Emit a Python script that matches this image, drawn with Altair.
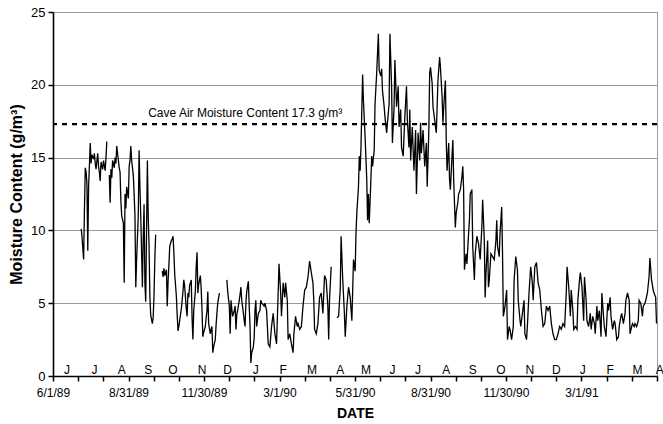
import altair as alt
import pandas as pd

# Days since 1 June 1989 (None marks a gap in the record) and moisture content (g/m3)
DAY = [
    34, 35, 37, 38, 39, 40, 41, 42, 43, 45, 46, 47, 49, 50, 51, 52, 54, 55, 56, 57, 58, 60, 61, 63, 64, 65,
    None,
    68, 69, 70, 71, 72, 74, 75, 76, 77, 79, 80, 81, 82, 83, 85, 86, 87, 88, 89, 91, 92, 93, 94, 95, 97, 98,
    99, 100, 101, 103, 104, 105, 106, 108, 109, 110, 111, 112, 114, 115, 116, 117, 118, 120, 121, 122, 123, 124,
    None,
    132, 133, 134, 135, 137, 138, 139, 140, 141, 143, 144, 145, 146, 147, 149, 150, 151, 152, 153, 155, 156,
    157, 158, 159, 161, 162, 163, 164, 165, 167, 168, 169, 170, 172, 173, 174, 175, 176, 178, 179, 180, 181,
    182, 184, 185, 186, 187, 188, 190, 191, 192, 193, 194, 196, 197, 198, 199, 201,
    None,
    210, 211, 213, 214, 215, 216, 217, 219, 220, 221, 222, 223, 225, 226, 227, 228, 230, 231, 232, 233, 234,
    236, 237, 238, 239, 240, 242, 243, 244, 245, 246, 248, 249, 250, 251, 252, 254, 255,
    256, 258, 260, 262, 264, 266, 268, 270, 272, 273, 275, 276, 278, 280, 281, 283, 284, 286, 288, 290, 291,
    293, 295, 296, 298, 300, 302, 304, 306, 308, 310, 312, 314, 315, 316, 318, 320, 322, 324, 326, 328, 330,
    332, 333, 334, 336,
    None,
    343, 345, 347, 348, 350, 352, 353, 355, 357, 359, 361, 363, 365, 366, 367, 369, 370, 371, 372, 374, 375,
    377, 379, 380, 381, 382, 384, 385, 386, 388, 389, 391, 393, 394, 396, 397, 398, 400, 401, 403, 404, 406,
    407, 409, 410, 412, 413, 415, 417, 418, 420, 421, 423, 425, 427, 428, 430, 431, 432, 434, 436, 438, 439,
    441, 443, 444, 445, 447, 449, 451, 452, 454, 455, 456, 458, 459, 461, 463, 465, 467, 468, 470, 471, 472,
    474, 475, 476, 478, 479, 480, 482, 483, 484, 486, 487, 489, 490, 492, 494, 495, 496, 497, 499, 500, 502,
    503, 504, 506, 507, 509, 510, 512, 514, 516, 518, 519, 521, 522, 523, 525, 526, 527, 529, 531, 533, 535,
    536, 537, 539, 540, 542, 543, 544, 546, 548, 549, 551, 552, 554, 556, 557, 559, 561, 562, 564, 565, 567,
    569, 570, 572, 573, 575, 577, 579, 580, 582, 584, 586, 588, 590, 592, 594, 596, 598, 600, 602, 604, 606,
    608, 610, 612, 614, 616, 618, 620, 621, 623, 625, 626, 628, 629, 631, 633, 634, 636, 637, 639, 641, 642,
    644, 645, 647, 649, 650, 652, 654, 655, 657, 658, 660, 662, 663, 665, 666, 668, 670, 671, 673, 674, 676,
    678, 679, 681, 683, 684, 686, 687, 689, 691, 692, 694, 696, 697, 699, 700, 702, 703, 705, 707, 708, 710,
    712, 713, 715, 716, 718, 720, 721, 723, 725, 726, 728, 729,
]
MOISTURE = [
    10.1, 9.6, 8.0, 11.5, 14.3, 14.0, 13.2, 8.6, 13.0, 16.0, 14.6, 15.2, 14.9, 15.3, 14.6, 14.2, 15.3, 14.4,
    14.0, 13.4, 14.7, 14.2, 14.8, 14.1, 15.0, 16.1,
    None,
    13.8, 11.9, 14.2, 13.6, 14.8, 14.3, 15.0, 14.6, 15.8, 14.8, 14.3, 14.0, 12.0, 11.0, 10.5, 6.4, 12.5, 11.5,
    13.0, 12.2, 14.4, 14.8, 15.8, 14.8, 13.8, 12.5, 11.0, 6.1, 8.0, 11.0, 15.5, 13.0, 11.0, 6.1, 9.5, 11.8,
    6.4, 5.1, 14.8, 11.0, 9.0, 5.5, 4.2, 3.6, 4.0, 5.5, 8.0, 9.7,
    None,
    7.2, 6.8, 7.4, 6.9, 7.3, 4.8, 6.5, 7.6, 8.9, 9.3, 9.4, 9.6, 8.5, 7.0, 5.5, 4.2, 3.1, 3.4, 3.8, 4.6, 5.2,
    5.8, 6.6, 6.2, 4.6, 4.1, 5.7, 5.4, 6.2, 6.6, 4.0, 2.5, 4.5, 5.9, 7.5, 8.5, 5.7, 6.3, 6.9, 6.0, 4.5, 2.7,
    3.0, 3.4, 4.0, 4.5, 5.8, 3.6, 2.9, 3.2, 3.4, 1.6, 2.0, 2.5, 3.5, 4.3, 5.0, 5.7,
    None,
    6.6, 5.8, 4.8, 2.9, 5.2, 4.6, 4.1, 4.5, 4.8, 3.2, 4.2, 4.5, 5.2, 5.6, 6.1, 5.2, 4.3, 3.8, 3.4, 5.0, 5.8,
    6.5, 4.8, 3.4, 0.9, 1.6, 2.0, 2.6, 4.5, 5.2, 3.4, 4.3, 4.4, 4.5, 5.2, 5.0, 4.9, 4.8,
    5.0, 4.5, 2.2, 2.0, 3.4, 4.3, 2.9, 2.2, 5.7, 7.7, 5.7, 4.1, 6.4, 5.4, 6.4, 5.2, 2.5, 2.9, 2.2, 1.6, 2.9,
    4.1, 3.4, 3.6, 3.2, 3.4, 4.8, 5.9, 6.1, 6.8, 7.9, 7.1, 6.4, 5.2, 3.2, 2.9, 3.6, 5.4, 5.7, 4.3, 6.9, 6.6,
    4.8, 2.5, 5.2, 7.5,
    None,
    4.0, 4.1, 6.0, 9.6, 6.6, 4.3, 2.7, 4.8, 6.1, 5.4, 3.8, 8.0, 7.2, 9.8, 11.2, 13.0, 15.1, 14.1, 15.7, 20.7,
    18.9, 16.4, 13.5, 10.7, 12.5, 10.5, 13.5, 15.1, 14.4, 15.5, 18.7, 20.8, 23.5, 21.0, 20.6, 21.1, 19.6, 18.5,
    17.8, 16.7, 17.4, 18.7, 23.5, 19.9, 16.0, 18.5, 21.7, 18.5, 19.9, 17.1, 18.3, 15.7, 15.1, 17.8, 19.9, 17.6,
    15.7, 18.3, 14.8, 17.1, 14.1, 16.9, 12.5, 16.7, 14.8, 17.4, 15.3, 16.9, 14.4, 16.0, 13.0, 16.9, 20.8, 21.2,
    20.1, 18.5, 17.6, 16.7, 20.3, 21.9, 21.2, 19.2, 17.4, 18.5, 20.3, 16.2, 14.1, 16.0, 13.5, 12.8, 15.1, 16.2,
    13.5, 10.2, 11.2, 11.9, 12.5, 12.8, 13.7, 14.4, 12.8, 7.3, 8.4, 7.7, 9.8, 10.7, 12.5, 12.8, 8.9, 6.6, 8.4,
    9.6, 9.1, 8.0, 10.2, 12.1, 9.3, 5.4, 7.0, 9.3, 6.1, 6.6, 8.4, 8.2, 8.0, 9.3, 10.7, 8.9, 8.2, 9.8, 11.6,
    8.4, 4.1, 4.8, 5.9, 2.5, 3.4, 3.2, 2.5, 3.4, 6.6, 8.2, 7.3, 5.2, 3.9, 3.4, 4.3, 5.2, 2.9, 2.5, 3.4, 5.7,
    7.5, 6.4, 5.2, 7.5, 7.8, 6.4, 5.9, 4.5, 3.4, 3.6, 4.8, 4.5, 4.8, 3.6, 2.9, 2.5, 2.5, 2.9, 3.4, 3.2, 3.6,
    3.4, 5.7, 7.5, 6.1, 4.1, 5.9, 4.5, 3.2, 3.4, 3.2, 5.2, 6.6, 7.1, 6.1, 3.8, 6.8, 5.2, 3.8, 3.4, 4.3, 3.2,
    4.1, 3.6, 2.9, 4.8, 3.8, 4.5, 2.7, 5.7, 4.1, 3.4, 2.7, 5.0, 4.5, 5.4, 4.1, 3.2, 3.8, 3.6, 2.5, 2.7, 3.4,
    4.1, 4.3, 3.6, 4.3, 5.2, 5.7, 5.2, 2.9, 3.4, 3.6, 3.4, 3.6, 3.4, 3.8, 5.2, 5.0, 4.1, 4.8, 5.0, 5.2, 5.7,
    6.8, 8.1, 6.6, 5.9, 5.7, 5.4, 3.6,
]

MONTH_LETTERS = ["J", "J", "A", "S", "O", "N", "D", "J", "F", "M", "A", "M",
                 "J", "J", "A", "S", "O", "N", "D", "J", "F", "M", "A"]
MONTH_DAY = [17, 50, 83, 115, 145, 180, 211, 245, 278, 313, 347, 378,
             410, 441, 475, 507, 541, 576, 608, 640, 673, 706, 733]

TICK_STEP = 30.4
TICK_LABELS = ["6/1/89", "", "", "8/31/89", "", "", "11/30/89", "", "", "3/1/90", "", "",
               "5/31/90", "", "", "8/31/90", "", "", "11/30/90", "", "", "3/1/91", "", "", ""]
Y_TICKS = [0, 5, 10, 15, 20, 25]

CAVE_LEVEL = 17.3
CAVE_LABEL = "Cave Air Moisture Content 17.3 g/m³"
CAVE_LABEL_DAY = 115

# build table with segment ids so gaps break the line
rows = []
seg = 0
for d, v in zip(DAY, MOISTURE):
    if d is None or v is None:
        seg += 1
        continue
    rows.append({"day": d, "moisture": v, "segment": seg})
df = pd.DataFrame(rows)

tick_values = [round(k * TICK_STEP, 1) for k in range(len(TICK_LABELS))]
label_expr = "[" + ",".join("'" + s + "'" for s in TICK_LABELS) + "][round(datum.value / " + str(TICK_STEP) + ")]"

x_scale = alt.Scale(domain=[0, tick_values[-1]], nice=False, zero=False)
y_scale = alt.Scale(domain=[0, 25], nice=False)

X = alt.X(
    "day:Q", scale=x_scale, title="DATE",
    axis=alt.Axis(values=tick_values, labelExpr=label_expr, labelOverlap=False, labelFlush=False,
                  grid=False, tickSize=5, tickWidth=1.5, tickColor="black", domainColor="black",
                  domainWidth=1.6, labelFontSize=12, labelPadding=6, labelColor="black",
                  titleFontSize=14, titleFontWeight="bold", titlePadding=8, titleColor="black"),
)
Y = alt.Y(
    "moisture:Q", scale=y_scale, title="Moisture Content (g/m³)",
    axis=alt.Axis(values=Y_TICKS, format="d", grid=True, gridColor="#9a9a9a", gridWidth=1,
                  tickSize=5, tickWidth=1.5, tickColor="black", domainColor="black", domainWidth=1.6,
                  labelFontSize=13, labelPadding=3, labelColor="black",
                  titleFontSize=16, titleFontWeight="bold", titlePadding=6, titleColor="black"),
)

line = alt.Chart(df).mark_line(color="black", strokeWidth=1.3).encode(
    x=X, y=Y, detail="segment:N"
)

rule = alt.Chart(pd.DataFrame({"moisture": [CAVE_LEVEL]})).mark_rule(
    color="black", strokeWidth=2.2, strokeDash=[5, 5]
).encode(y=Y)

cave_text = alt.Chart(pd.DataFrame({"day": [CAVE_LABEL_DAY], "moisture": [CAVE_LEVEL], "label": [CAVE_LABEL]})).mark_text(
    align="left", baseline="alphabetic", dy=-7, fontSize=12, color="black"
).encode(x=X, y=Y, text="label:N")

months = alt.Chart(pd.DataFrame({"day": MONTH_DAY, "letter": MONTH_LETTERS})).mark_text(
    align="center", baseline="alphabetic", dy=-2, fontSize=12, color="black"
).encode(x=X, y=alt.datum(0), text="letter:N")

chart = alt.layer(rule, line, cave_text, months).properties(
    width=604, height=364,
    autosize=alt.AutoSizeParams(type="none"),
    padding={"left": 53, "top": 12, "right": 6, "bottom": 48},
    background="white",
).configure(font="Liberation Sans").configure_view(stroke="#9a9a9a", strokeWidth=1)

chart.save("out.html", embed_options={"renderer": "svg", "actions": False})
